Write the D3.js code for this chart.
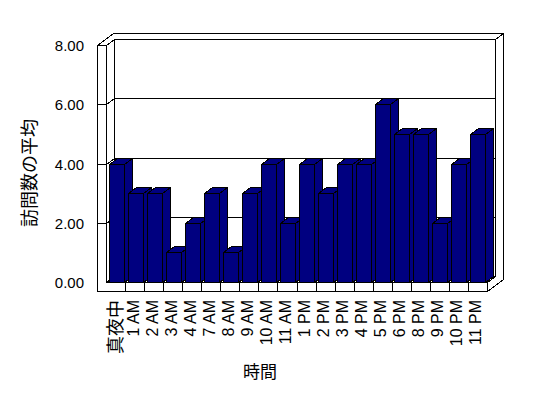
<!DOCTYPE html>
<html>
<head>
<meta charset="utf-8">
<script src="https://cdn.jsdelivr.net/npm/d3@7"></script>
<style>
  body { margin: 0; background: #fff; }
  text { font-family: Arial, "Liberation Sans", sans-serif; fill: #000; }
  .cjk { font-family: "Noto Sans CJK JP", sans-serif; }
  line, path, polygon, rect { shape-rendering: crispEdges; }
</style>
</head>
<body>
<script>
const categories = ["真夜中", "1 AM", "2 AM", "3 AM", "4 AM", "7 AM", "8 AM", "9 AM", "10 AM", "11 AM",
  "1 PM", "2 PM", "3 PM", "4 PM", "5 PM", "6 PM", "8 PM", "9 PM", "10 PM", "11 PM"];
const values = [4, 3, 3, 1, 2, 3, 1, 3, 4, 2, 4, 3, 4, 4, 6, 5, 5, 2, 4, 5];
const yTicks = [0, 2, 4, 6, 8];
const yTitle = "訪問数の平均";
const xTitle = "時間";

const width = 548;
const height = 398;
const svg = d3.select("body").append("svg")
  .attr("width", width)
  .attr("height", height);

// front plane of the plot, depth vector for the 3d look
const left = 106.5, right = 487.5;
const wallW = 9;        // left wall thickness
const floorH = 9;       // floor thickness
const dx = 8, dy = -6;  // depth of plot (and of back wall)
const barColor = "#000080";

const x = d3.scaleBand().domain(categories).range([left, right]).padding(0);
const yScale = d3.scaleLinear().domain([0, 8]).range([282.5, 45.5]);
const y = v => Math.round(yScale(v) - 0.5) + 0.5;

const y0 = y(0), yTop = y(8);
const poly = pts => pts.map(p => p.join(",")).join(" ");

const frame = svg.append("g").attr("fill", "#fff").attr("stroke", "#000").attr("stroke-width", 1);

// back wall inner face
frame.append("rect")
  .attr("x", left + dx).attr("y", yTop + dy)
  .attr("width", right - left).attr("height", y0 - yTop);

// top of back wall + left wall
frame.append("polygon").attr("points", poly([
  [left - wallW, yTop], [left, yTop], [left + dx, yTop + dy], [right + dx, yTop + dy],
  [right + 2 * dx, yTop + 2 * dy], [left - wallW + 2 * dx, yTop + 2 * dy]
]));

// right end of back wall and floor
frame.append("polygon").attr("points", poly([
  [right + dx, yTop + dy], [right + 2 * dx, yTop + 2 * dy],
  [right + 2 * dx, y0 + floorH + 2 * dy], [right, y0 + floorH], [right, y0], [right + dx, y0 + dy]
]));

// left wall inner face
frame.append("polygon").attr("points", poly([
  [left, yTop], [left + dx, yTop + dy], [left + dx, y0 + dy], [left, y0]
]));

// floor top
frame.append("polygon").attr("points", poly([
  [left, y0], [right, y0], [right + dx, y0 + dy], [left + dx, y0 + dy]
]));

// front faces of left wall and floor
frame.append("polygon").attr("points", poly([
  [left - wallW, yTop], [left, yTop], [left, y0], [right, y0],
  [right, y0 + floorH], [left - wallW, y0 + floorH]
]));

// gridlines on back wall and left wall, ticks on wall front
const grid = svg.append("g").attr("stroke", "#000").attr("fill", "none");
yTicks.filter(v => v > 0 && v < 8).forEach(v => {
  grid.append("line")
    .attr("x1", left + dx).attr("x2", right + dx)
    .attr("y1", y(v) + dy).attr("y2", y(v) + dy);
  grid.append("path")
    .attr("d", `M${left - wallW},${y(v)}H${left}L${left + dx},${y(v) + dy}`);
});

// category separators on floor front
categories.slice(1).forEach(c => {
  const cx = Math.round(x(c) - 0.5) + 0.5;
  grid.append("line")
    .attr("x1", cx).attr("x2", cx)
    .attr("y1", y0).attr("y2", y0 + floorH);
});

// bars
const bw = Math.round(x.bandwidth() * 0.79);
const bars = svg.append("g").attr("fill", barColor).attr("stroke", "#000");
categories.forEach((c, i) => {
  const x0 = Math.round(x(c) + (x.bandwidth() - bw) / 2) + 0.5;
  const x1 = x0 + bw;
  const top = y(values[i]);
  const g = bars.append("g");
  g.append("polygon").attr("points", poly([
    [x1, top], [x1 + dx, top + dy], [x1 + dx, y0 + dy], [x1, y0]
  ]));
  g.append("polygon").attr("points", poly([
    [x0, top], [x1, top], [x1 + dx, top + dy], [x0 + dx, top + dy]
  ]));
  g.append("rect").attr("x", x0).attr("y", top).attr("width", x1 - x0).attr("height", y0 - top);
});

// y axis labels
svg.append("g").selectAll("text").data(yTicks).join("text")
  .attr("x", 84)
  .attr("y", d => y(d))
  .attr("text-anchor", "end")
  .attr("dominant-baseline", "central")
  .attr("font-size", 15)
  .text(d => d3.format(".2f")(d));

// x axis labels
svg.append("g").selectAll("text").data(categories).join("text")
  .attr("class", d => /[^\x00-\x7F]/.test(d) ? "cjk" : null)
  .attr("transform", d => `translate(${x(d) + x.bandwidth() / 2 - 2},300) rotate(-90)`)
  .attr("text-anchor", "end")
  .attr("dominant-baseline", "central")
  .attr("font-size", d => /[^\x00-\x7F]/.test(d) ? 18 : 16)
  .text(d => d);

// axis titles
svg.append("text").attr("class", "cjk")
  .attr("transform", "translate(28,173) rotate(-90)")
  .attr("text-anchor", "middle")
  .attr("dominant-baseline", "central")
  .attr("font-size", 18)
  .text(yTitle);

svg.append("text").attr("class", "cjk")
  .attr("x", 260).attr("y", 370)
  .attr("text-anchor", "middle")
  .attr("dominant-baseline", "central")
  .attr("font-size", 17)
  .text(xTitle);
</script>
</body>
</html>
